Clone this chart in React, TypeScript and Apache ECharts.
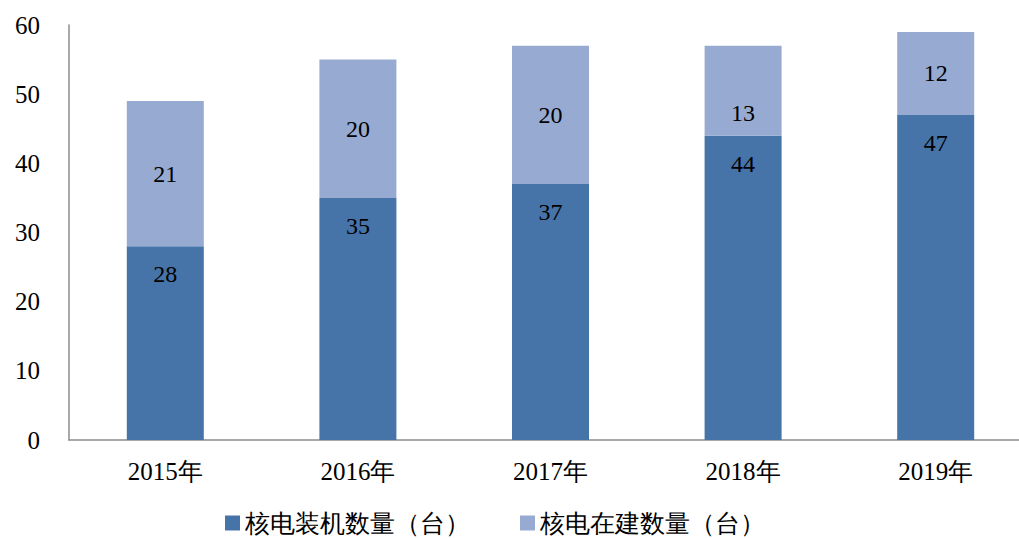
import React, { useEffect, useRef } from "react";
import * as echarts from "echarts";

const categories = ["2015年", "2016年", "2017年", "2018年", "2019年"];
const installed = [28, 35, 37, 44, 47];
const underConstruction = [21, 20, 20, 13, 12];
const seriesNames = ["核电装机数量（台）", "核电在建数量（台）"];

const FONT = "Liberation Serif";

export default function App() {
  const ref = useRef<HTMLDivElement>(null);
  useEffect(() => {
    const chart = echarts.init(ref.current!, null, { renderer: "svg" });
    chart.setOption({
      animation: false,
      grid: { left: 69, right: 0, top: 25, bottom: 98, containLabel: false },
      legend: {
        top: 505,
        left: 220,
        icon: "rect",
        itemWidth: 15,
        itemHeight: 15,
        itemGap: 50,
        textStyle: { color: "#000", fontFamily: FONT, fontSize: 25, lineHeight: 26 },
        data: seriesNames,
      },
      xAxis: {
        type: "category",
        data: categories,
        axisLine: { lineStyle: { color: "#8c8c8c", width: 1.5 } },
        axisTick: { show: false },
        axisLabel: { color: "#000", fontFamily: FONT, fontSize: 25, margin: 19 },
      },
      yAxis: {
        type: "value",
        min: 0,
        max: 60,
        interval: 10,
        axisLine: { show: true, lineStyle: { color: "#8c8c8c", width: 1.5 } },
        axisTick: { show: false },
        splitLine: { show: false },
        axisLabel: { color: "#000", fontFamily: FONT, fontSize: 25, margin: 29 },
      },
      series: [
        {
          name: seriesNames[0],
          type: "bar",
          stack: "total",
          data: installed,
          barWidth: 77,
          itemStyle: { color: "#4673A8" },
          label: { show: true, position: "insideTop", distance: 16, color: "#000", fontFamily: FONT, fontSize: 24 },
        },
        {
          name: seriesNames[1],
          type: "bar",
          stack: "total",
          data: underConstruction.map((v, i) =>
            i === 3 ? { value: v, label: { offset: [0, 22] } } : v
          ),
          barWidth: 77,
          itemStyle: { color: "#97ABD2" },
          label: { show: true, position: "inside", color: "#000", fontFamily: FONT, fontSize: 24 },
        },
      ],
    });
    return () => chart.dispose();
  }, []);
  return (
    <div style={{ width: 1019, height: 538, position: "absolute", left: 0, top: 0, overflow: "hidden" }}>
      <div ref={ref} style={{ width: 1032, height: 538, position: "absolute", left: 0, top: 0 }} />
    </div>
  );
}
